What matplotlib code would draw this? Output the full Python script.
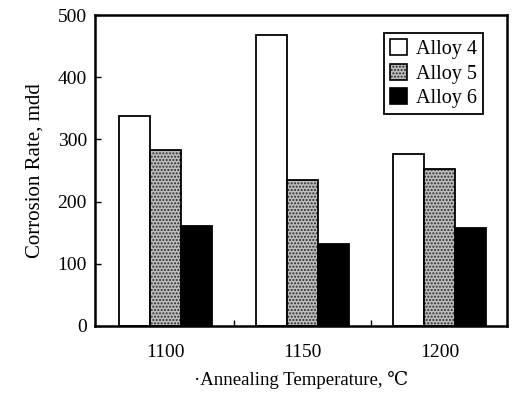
import numpy as np
import matplotlib.pyplot as plt
from matplotlib.patches import Patch
from matplotlib.legend_handler import HandlerTuple

plt.rcParams['font.family'] = ['Liberation Serif', 'DejaVu Serif']

temps = ['1100', '1150', '1200']
alloy4 = [338, 468, 276]
alloy5 = [283, 235, 253]
alloy6 = [161, 131, 157]
names = ['Alloy 4', 'Alloy 5', 'Alloy 6']

x = np.arange(len(temps))
w = 0.226

fig = plt.figure(figsize=(5.12, 3.95), dpi=100)
ax = fig.add_axes([0.186, 0.175, 0.804, 0.787])

# white, dotted grey, solid black
ax.bar(x - w, alloy4, w, color='white', edgecolor='black', lw=1.3)
ax.bar(x, alloy5, w, color='#bdbdbd', edgecolor='#2a2a2a', hatch='.....', lw=0)
ax.bar(x, alloy5, w, fill=False, edgecolor='black', lw=1.3)
ax.bar(x + w, alloy6, w, color='black', edgecolor='black', lw=1.3)

ax.set_xlim(-0.51, 2.49)
ax.set_ylim(0, 500)
ax.set_yticks([0, 100, 200, 300, 400, 500])
ax.set_xticks(x)
ax.set_xticklabels(temps)
ax.set_xticks([0.5, 1.5], minor=True)
ax.tick_params(axis='y', direction='in', length=4, width=1, labelsize=14, pad=6)
ax.tick_params(axis='x', which='major', length=0, labelsize=14, pad=13)
ax.tick_params(axis='x', which='minor', direction='in', length=4, width=1)
for s in ax.spines.values():
    s.set_linewidth(1.8)

ax.set_ylabel('Corrosion Rate, mdd', fontsize=15, labelpad=9)
ax.set_xlabel('\u00b7Annealing Temperature, \u2103', fontsize=13.5, labelpad=7)

h4 = Patch(facecolor='white', edgecolor='black', lw=1.2)
h5 = (Patch(facecolor='#bdbdbd', edgecolor='#2a2a2a', hatch='.....', lw=0),
      Patch(fill=False, edgecolor='black', lw=1.2))
h6 = Patch(facecolor='black', edgecolor='black', lw=1.2)
leg = ax.legend([h4, h5, h6], names, loc='upper right',
                bbox_to_anchor=(0.942, 0.942), borderaxespad=0, fontsize=14.5,
                handler_map={tuple: HandlerTuple(ndivide=1)},
                handlelength=0.85, handleheight=0.85, handletextpad=0.45,
                labelspacing=0.22, borderpad=0.3, fancybox=False,
                framealpha=1, edgecolor='black')
leg.get_frame().set_linewidth(1.3)

fig.savefig('out.png', dpi=100)
